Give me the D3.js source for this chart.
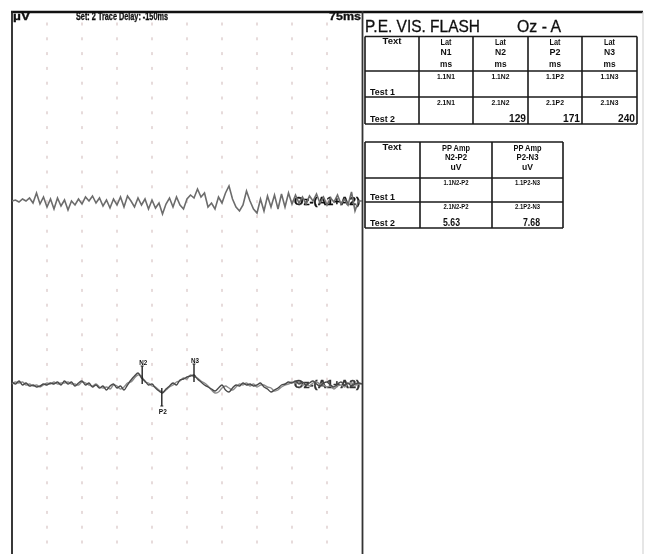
<!DOCTYPE html>
<html><head><meta charset="utf-8">
<script src="https://cdn.jsdelivr.net/npm/d3@7"></script>
<style>body{margin:0;background:#fff}svg{display:block}</style>
</head><body><svg id="c" width="648" height="554"></svg>
<script>
// ---- data ----
const timeStartMs = -150, msPerPoint = 7.5;
const trace1 = [0,1,-1,2,0,3,-2,8,-3,4,-6,2,-8,3,-5,1,-9,0,-4,2,-3,4,0,5,-2,3,-5,1,-7,2,-4,4,-6,5,0,-6,3,-4,2,-8,1,-7,-2,-13,-3,3,-6,4,-4,-8,2,6,3,12,4,8,-6,-2,-8,4,-2,8,15,2,-6,-10,-4,10,0,-8,-12,2,-10,5,-6,6,-8,7,-6,8,-3,6,-2,4,-3,5,0,7,-2,4,-4,3,-1,6,-3,2,-4,9,-10,0,0];
const trace2a = [2,0,3,-1,1,-2,-1,-3,-2,0,-1,1,0,2,-1,3,0,2,-2,1,3,-1,1,-3,-1,-4,-2,-6,-2,0,-4,-2,-6,-1,4,8,11,6,3,-1,0,-4,-7,-9,-5,-2,1,-1,4,5,7,8,9,5,2,-1,-3,-5,-7,-4,-1,-6,-8,-4,-1,-2,1,-1,0,-2,-1,1,-3,-5,-8,-6,-4,-1,0,2,1,3,0,2,-1,1,3,0,-2,1,2,-1,-3,0,2,-1,1,-2,0,1,0];
const trace2b = [0,2,1,2,-1,0,-2,-1,-3,-1,1,0,2,0,1,1,2,0,0,-1,2,1,-1,-2,0,-3,-4,-3,-5,-1,-2,-5,-3,1,2,6,9,8,2,1,-2,-3,-6,-8,-6,-3,-1,2,3,6,5,9,7,6,3,1,-2,-6,-9,-8,-4,-2,-4,-6,-3,0,-1,1,-2,0,-3,-1,-1,-3,-4,-7,-6,-3,-1,0,2,1,2,-1,0,-2,1,2,0,-1,-3,-2,-5,-2,-1,-3,0,1,-1,0,0];
const markerNames = ["N2","P2","N3"];
const markerLatencies = [129,171,240];
const markerAmps = [6,-8,8];
const gridTimes = [-75,0,75,150,225,300,375,450,525];
const latColumns = ["N1","N2","P2","N3"];
const latTest2 = ["","129","171","240"];
const ampColumns = ["N2-P2","P2-N3"];
const ampCodes = ["N2-P2","P2-N3"];
const ampTest2 = ["5.63","7.68"];

// ---- drawing ----
const svg = d3.select("#c");
const F = "'Liberation Sans Narrow','Liberation Sans',Arial,sans-serif";
const x = d3.scaleLinear().domain([-150,600]).range([12,362]);
const y1 = d3.scaleLinear().domain([-20,20]).range([221,181]);
const y2 = d3.scaleLinear().domain([-20,20]).range([404,364]);
const tOf = i => timeStartMs + i*msPerPoint;

const defs = svg.append("defs");
defs.append("filter").attr("id","soft").append("feGaussianBlur").attr("stdDeviation",0.4);

// grid dots
const gridRows = d3.range(0,36).map(k => 24 + 14.8*k).filter(v => v < 552);
const gg = svg.append("g").attr("fill","#ddcccc");
gridTimes.forEach(t => gridRows.forEach(r => {
  gg.append("rect").attr("x", x(t)-0.7).attr("y", r-1.5).attr("width",1.4).attr("height",3);
}));

// frame
svg.append("line").attr("x1",11).attr("x2",643).attr("y1",12).attr("y2",12).attr("stroke","#111").attr("stroke-width",2.4);
svg.append("line").attr("x1",12).attr("x2",12).attr("y1",11).attr("y2",554).attr("stroke","#222").attr("stroke-width",1.8);
svg.append("line").attr("x1",362.5).attr("x2",362.5).attr("y1",11).attr("y2",554).attr("stroke","#333").attr("stroke-width",1.8);
svg.append("line").attr("x1",643).attr("x2",643).attr("y1",12).attr("y2",554).attr("stroke","#d6d6d6").attr("stroke-width",1.2);

const tg = svg.append("g").attr("filter","url(#soft)");
function txt(t, X, Y, size, opts={}) {
  const e = tg.append("text").attr("x",X).attr("y",Y).text(t)
    .attr("font-family",F).attr("font-size",size).attr("fill",opts.fill||"#111")
    .attr("font-weight",opts.weight||"bold").attr("text-anchor",opts.anchor||"start");
  if (opts.len) e.attr("textLength",opts.len).attr("lengthAdjust","spacingAndGlyphs");
  if (opts.stroke) e.attr("stroke",opts.fill||"#111").attr("stroke-width",opts.stroke);
  return e;
}
txt("µV",13,20,10,{len:17,stroke:0.3});
txt("Set: 2 Trace Delay: -150ms",76,20,10,{len:92,stroke:0.3});
txt("75ms",329,20,10,{len:32,stroke:0.3});

// traces
const line1 = d3.line().x((d,i)=>x(tOf(i))).y(d=>y1(d));
const line2 = d3.line().x((d,i)=>x(tOf(i))).y(d=>y2(d)).curve(d3.curveCatmullRom);
svg.append("path").attr("d",line1(trace1)).attr("fill","none").attr("stroke","#6c6c6c").attr("stroke-width",1.6).attr("filter","url(#soft)");
svg.append("path").attr("d",line2(trace2b)).attr("fill","none").attr("stroke","#8a8a8a").attr("stroke-width",1.4).attr("filter","url(#soft)");
svg.append("path").attr("d",line2(trace2a)).attr("fill","none").attr("stroke","#4a4a4a").attr("stroke-width",1.4).attr("filter","url(#soft)");

// trace labels
txt("Oz-(A1+A2)",294,205,11,{len:66,stroke:0.3});
txt("Oz-(A1+A2)",294,388,11,{len:66,fill:"#333",stroke:0.3});

// markers
markerNames.forEach((n,k) => {
  const mx = x(markerLatencies[k]);
  const my = y2(markerAmps[k]);
  const up = markerAmps[k] > 0;
  const tip = up ? my - 12 : my + 14;
  svg.append("line").attr("x1",mx).attr("x2",mx).attr("y1", up ? my+6 : my-4).attr("y2",tip)
    .attr("stroke","#222").attr("stroke-width",1.4);
  svg.append("line").attr("x1",mx-1.5).attr("x2",mx+1.5).attr("y1",tip).attr("y2",tip).attr("stroke","#222").attr("stroke-width",1);
  txt(n, mx+1, up ? tip-1 : tip+8, 7.5, {anchor:"middle",len:8});
});

// right panel title
txt("P.E. VIS. FLASH",365,32,17,{weight:"normal",len:115,stroke:0.3});
txt("Oz - A",517,32,17,{weight:"normal",len:44,stroke:0.3});

// tables
function grid(cols, rows) {
  const g = svg.append("g").attr("stroke","#1a1a1a").attr("stroke-width",1.6);
  rows.forEach(r => g.append("line").attr("x1",cols[0]).attr("x2",cols[cols.length-1]).attr("y1",r).attr("y2",r));
  cols.forEach(c => g.append("line").attr("x1",c).attr("x2",c).attr("y1",rows[0]).attr("y2",rows[rows.length-1]));
}
const c1 = [365,419,473,528,582,637], r1 = [36.5,71,97,124];
grid(c1, r1);
txt("Text",392,44,9,{anchor:"middle",len:19});
latColumns.forEach((n,k) => {
  const cx = (c1[k+1]+c1[k+2])/2;
  txt("Lat",cx,45,9,{anchor:"middle",len:11});
  txt(n,cx,55,9,{anchor:"middle",len:11});
  txt("ms",cx,67,9,{anchor:"middle",len:12});
  txt("1.1"+n,cx,79,6.5,{anchor:"middle",len:18});
  txt("2.1"+n,cx,105,6.5,{anchor:"middle",len:18});
  if (latTest2[k]) txt(latTest2[k],c1[k+2]-2,122,11,{anchor:"end",len:17});
});
txt("Test 1",370,95,9,{len:25});
txt("Test 2",370,122,9,{len:25});

const c2 = [365,420,492,563], r2 = [142,178,202,228];
grid(c2, r2);
txt("Text",392,150,9,{anchor:"middle",len:19});
ampColumns.forEach((n,k) => {
  const cx = (c2[k+1]+c2[k+2])/2;
  txt("PP Amp",cx,151,9,{anchor:"middle",len:28});
  txt(n,cx,160,9,{anchor:"middle",len:22});
  txt("uV",cx,170,9,{anchor:"middle",len:11});
  txt("1.1"+ampCodes[k],cx,185,6.5,{anchor:"middle",len:25});
  txt("2.1"+ampCodes[k],cx,209,6.5,{anchor:"middle",len:25});
  txt(ampTest2[k],c2[k+2]-(k===0?32:23),226,11,{anchor:"end",len:17});
});
txt("Test 1",370,200,9,{len:25});
txt("Test 2",370,226,9,{len:25});
</script></body></html>
